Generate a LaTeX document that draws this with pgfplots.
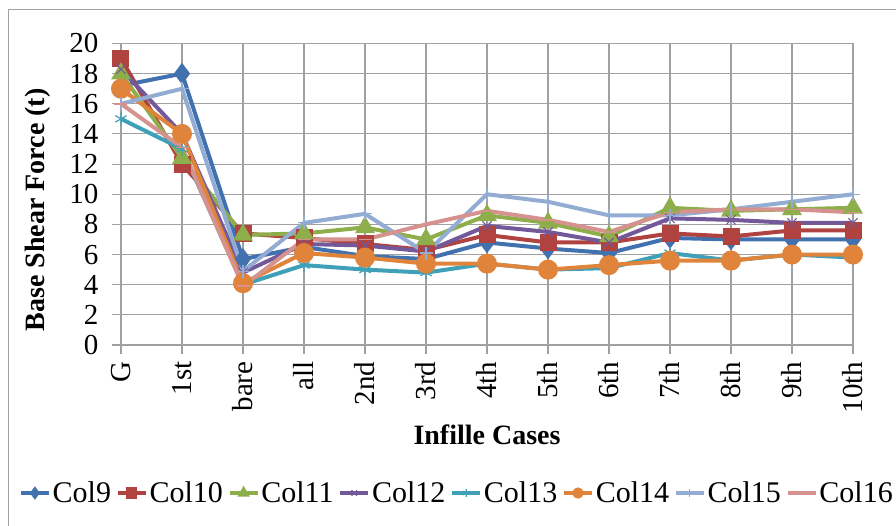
\documentclass[border=0pt]{standalone}
\usepackage{fontspec}
\setmainfont{Liberation Serif}
\usepackage{pgfplots}
\pgfplotsset{compat=1.18}
\definecolor{c9}{HTML}{4171AE}
\definecolor{c10}{HTML}{B0423F}
\definecolor{c11}{HTML}{8DAE4B}
\definecolor{c12}{HTML}{73599A}
\definecolor{c13}{HTML}{3FA0B8}
\definecolor{c14}{HTML}{E0843C}
\definecolor{c15}{HTML}{93ACD4}
\definecolor{c16}{HTML}{D6928F}
\definecolor{gridc}{HTML}{A0A0A0}
\begin{document}
\begin{tikzpicture}
\path[use as bounding box] (-121pt,-181pt) rectangle (775pt,345pt);
\draw[gridc, line width=1pt] (-112pt,-200pt) rectangle (800pt,335pt);
\begin{axis}[
  scale only axis, width=732pt, height=301.5pt,
  at={(0,0)}, anchor=south west,
  xmin=0, xmax=12, ymin=0, ymax=20,
  xtick={0,...,12},
  xticklabels={G,1st,bare,all,2nd,3rd,4th,5th,6th,7th,8th,9th,10th},
  ytick={0,2,...,20},
  grid=major,
  major grid style={gridc, line width=1.1pt},
  axis line style={gridc, line width=1.1pt},
  tick style={gridc, line width=1.1pt},
  major tick length=9pt,
  tick align=outside,
  xtick pos=left, ytick pos=left,
  xticklabel shift=4pt,
  yticklabel shift=10pt,
  /pgf/number format/assume math mode=true,
  tick label style={font=\fontsize{29}{29}\selectfont},
  x tick label style={rotate=90, anchor=east},
  xlabel={\textbf{Infille Cases}},
  ylabel={\textbf{Base Shear Force (t)}},
  x label style={at={(axis description cs:0.5,-0.2985)}, anchor=center, font=\fontsize{28}{28}\selectfont},
  y label style={at={(axis description cs:-0.1134,0.448)}, anchor=center, rotate=0, font=\fontsize{28}{28}\selectfont},
  legend columns=8,
  legend style={at={(axis description cs:0.459,-0.491)}, anchor=center, draw=none, fill=none,
    font=\fontsize{30}{30}\selectfont, inner sep=0pt,
    /tikz/every even column/.append style={column sep=3pt}},
  legend image code/.code={\draw[mark repeat=2,mark phase=2, mark size=3.8pt, line width=3.5pt] plot coordinates {(0pt,0pt)(14pt,0pt)(28pt,0pt)};},
  every axis plot/.append style={line width=4pt, mark size=6.5pt},
]
\addplot[c9, mark=diamond*, mark size=7.5pt, mark options={fill=c9}] coordinates {(0,17.2)(1,18.0)(2,5.7)(3,6.5)(4,5.9)(5,5.7)(6,6.8)(7,6.4)(8,6.1)(9,7.1)(10,7.0)(11,7.0)(12,7.0)};
\addlegendentry{Col9}
\addplot[c10, mark=square*, mark size=6.5pt, mark options={fill=c10}] coordinates {(0,19.0)(1,12.0)(2,7.4)(3,7.1)(4,6.7)(5,6.3)(6,7.3)(7,6.8)(8,6.8)(9,7.4)(10,7.2)(11,7.6)(12,7.6)};
\addlegendentry{Col10}
\addplot[c11, mark=triangle*, mark size=7.5pt, mark options={fill=c11}] coordinates {(0,18.0)(1,12.4)(2,7.3)(3,7.4)(4,7.8)(5,7.0)(6,8.6)(7,8.1)(8,7.2)(9,9.1)(10,8.9)(11,9.0)(12,9.1)};
\addlegendentry{Col11}
\addplot[c12, mark=x, mark size=6.5pt, mark options={line width=1.2pt}] coordinates {(0,18.3)(1,14.0)(2,4.8)(3,6.7)(4,6.6)(5,6.2)(6,7.9)(7,7.5)(8,6.8)(9,8.4)(10,8.3)(11,8.1)(12,8.1)};
\addlegendentry{Col12}
\addplot[c13, mark=asterisk, mark size=6.5pt, mark options={line width=1.2pt}] coordinates {(0,15.0)(1,13.0)(2,4.0)(3,5.3)(4,5.0)(5,4.8)(6,5.4)(7,5.0)(8,5.1)(9,6.1)(10,5.6)(11,6.0)(12,5.8)};
\addlegendentry{Col13}
\addplot[c14, mark=*, mark size=8pt, mark options={fill=c14}] coordinates {(0,17.0)(1,14.0)(2,4.1)(3,6.1)(4,5.8)(5,5.4)(6,5.4)(7,5.0)(8,5.3)(9,5.6)(10,5.6)(11,6.0)(12,6.0)};
\addlegendentry{Col14}
\addplot[c15, mark=+, mark size=6.5pt, mark options={line width=1.2pt}] coordinates {(0,16.0)(1,17.0)(2,4.9)(3,8.1)(4,8.7)(5,6.1)(6,10.0)(7,9.5)(8,8.6)(9,8.6)(10,9.0)(11,9.5)(12,10.0)};
\addlegendentry{Col15}
\addplot[c16, mark=-, mark size=6.5pt, mark options={line width=1.5pt}] coordinates {(0,16.0)(1,13.1)(2,3.9)(3,7.0)(4,7.0)(5,8.0)(6,8.9)(7,8.3)(8,7.5)(9,8.8)(10,9.0)(11,9.0)(12,8.8)};
\addlegendentry{Col16}
\end{axis}
\end{tikzpicture}
\end{document}
